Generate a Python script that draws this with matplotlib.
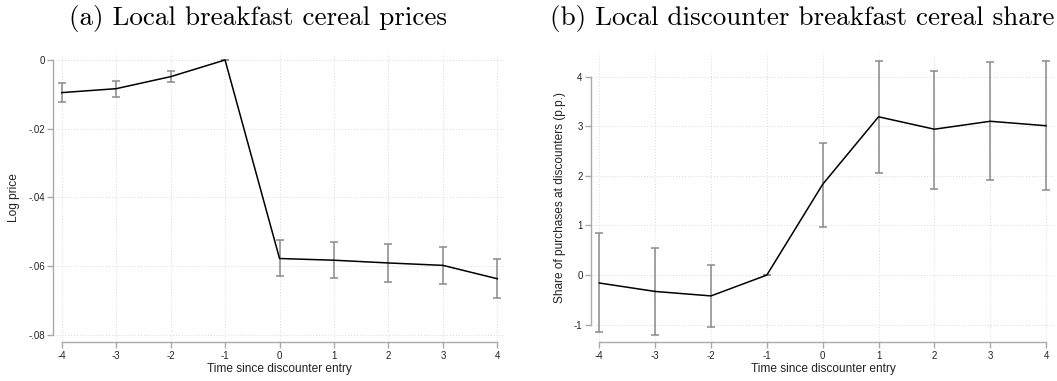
import matplotlib
matplotlib.use("Agg")
import matplotlib.pyplot as plt
import numpy as np

# event time
periods = [-4, -3, -2, -1, 0, 1, 2, 3, 4]

# panel (a): log price
price_coef = [-0.0095, -0.00835, -0.00485, 0.0, -0.0578, -0.0583, -0.0591, -0.0598, -0.0637]
price_lo = [-0.0122, -0.0107, -0.0065, 0.0, -0.0629, -0.0635, -0.0645, -0.0652, -0.0694]
price_hi = [-0.0068, -0.0061, -0.0031, 0.0, -0.0525, -0.0529, -0.0537, -0.0544, -0.0579]
price_ticks = [0, -0.02, -0.04, -0.06, -0.08]
price_labels = ["0", "-.02", "-.04", "-.06", "-.08"]

# panel (b): discounter share (p.p.)
share_coef = [-0.16, -0.33, -0.42, 0.0, 1.83, 3.19, 2.94, 3.10, 3.01]
share_lo = [-1.14, -1.20, -1.04, 0.0, 0.96, 2.05, 1.74, 1.91, 1.71]
share_hi = [0.84, 0.54, 0.20, 0.0, 2.67, 4.32, 4.12, 4.30, 4.31]
share_ticks = [-1, 0, 1, 2, 3, 4]
share_labels = ["-1", "0", "1", "2", "3", "4"]

W, H = 1057, 381
fig = plt.figure(figsize=(W / 100, H / 100), dpi=100)

tick_font = {"family": "Liberation Sans", "size": 7}
lab_font = {"family": "Liberation Sans", "size": 8.6}
axcol = "#a9a9a9"
errcol = "#8a8a8a"


def panel(rect, x, y, lo, hi, yt, ytl, xlim, ylim, ylabel, title, title_x):
    ax = fig.add_axes(rect)
    ax.set_xlim(*xlim)
    ax.set_ylim(*ylim)
    for xv in x:
        ax.axvline(xv, color="#d9d9d9", lw=0.7, ls=(0, (1, 2)), zorder=0)
    for yv in yt:
        ax.axhline(yv, color="#d9d9d9", lw=0.7, ls=(0, (1, 2)), zorder=0)
    y = np.array(y)
    yerr = [y - np.array(lo), np.array(hi) - y]
    ax.errorbar(x, y, yerr=yerr, fmt="none", ecolor=errcol, elinewidth=1.1,
                capsize=3, capthick=1.1, zorder=2)
    ax.plot(x, y, color="black", lw=1.1, zorder=3)
    for s in ["top", "right"]:
        ax.spines[s].set_visible(False)
    ax.spines["left"].set_bounds(min(yt), max(yt))
    ax.spines["bottom"].set_bounds(min(x), max(x))
    for s in ["left", "bottom"]:
        ax.spines[s].set_color(axcol)
        ax.spines[s].set_linewidth(1.0)
    ax.set_xticks(x)
    ax.set_xticklabels([str(v) for v in x], fontdict=tick_font)
    ax.set_yticks(yt)
    ax.set_yticklabels(ytl, fontdict=tick_font)
    ax.tick_params(axis="both", colors=axcol, length=4, width=1.0, pad=2,
                   labelcolor="#222222")
    ax.set_xlabel("Time since discounter entry", fontdict=lab_font, color="#222222", labelpad=2)
    ax.set_ylabel(ylabel, fontdict=lab_font, color="#222222", labelpad=6)
    fig.text(title_x, 1 - 19 / H, title, ha="center", va="center",
             family="cmr10", fontsize=19.5)
    return ax


panel([53.3 / W, 38.7 / H, (505 - 53.3) / W, (342.3 - 53.3) / H],
      periods, price_coef, price_lo, price_hi, price_ticks, price_labels,
      (-4.154, 4.14), (-0.0822, 0.00195), "Log price",
      "(a) Local breakfast cereal prices", 258 / W)

panel([591 / W, 38.7 / H, (1055 - 591) / W, (342.3 - 53.3) / H],
      periods, share_coef, share_lo, share_hi, share_ticks, share_labels,
      (-4.149, 4.16), (-1.355, 4.47), "Share of purchases at discounters (p.p.)",
      "(b) Local discounter breakfast cereal share", 802 / W)

fig.savefig("out.png", dpi=100)
